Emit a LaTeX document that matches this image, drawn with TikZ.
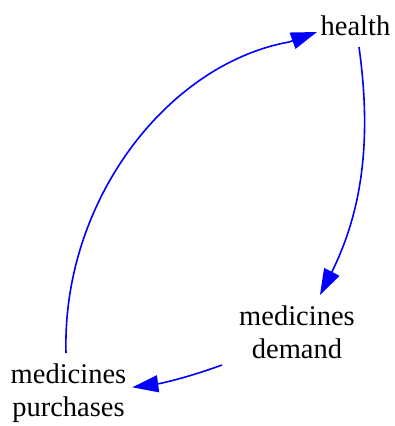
\documentclass[tikz,border=0pt]{standalone}
\usepackage{fontspec}
\setmainfont{Liberation Serif}
\usetikzlibrary{arrows.meta,calc}
\begin{document}
\begin{tikzpicture}[x=1pt,y=-1pt,
  lbl/.style={inner sep=0pt,align=center,font=\fontsize{28.5}{33}\selectfont},
  link/.style={draw={rgb,255:red,0;green,0;blue,255},line width=1.6pt,
    -{Triangle[length=26pt,width=17pt]}}]
\useasboundingbox (0,0) rectangle (395,426);
\node[lbl] (health) at (355.5,25.25) {health};
\node[lbl] (demand) at (297,332) {medicines\\demand};
\node[lbl] (purch) at (68.5,393.4) {medicines\\purchases};
\draw[link] ($(health)+(3.5,21.75)$) .. controls (372,140) and (362,210) .. (332.8,270) -- ($(demand)+(23,-37)$);
\draw[link] ($(demand)+(-75,33)$) .. controls (200,373) and (180,379) .. (160,383.5) -- ($(purch)+(63.8,-6.1)$);
\draw[link] ($(purch)+(-2.5,-40.4)$) .. controls (62,200) and (168,64) .. (289,42) -- ($(health)+(-38.5,6.75)$);
\end{tikzpicture}
\end{document}
